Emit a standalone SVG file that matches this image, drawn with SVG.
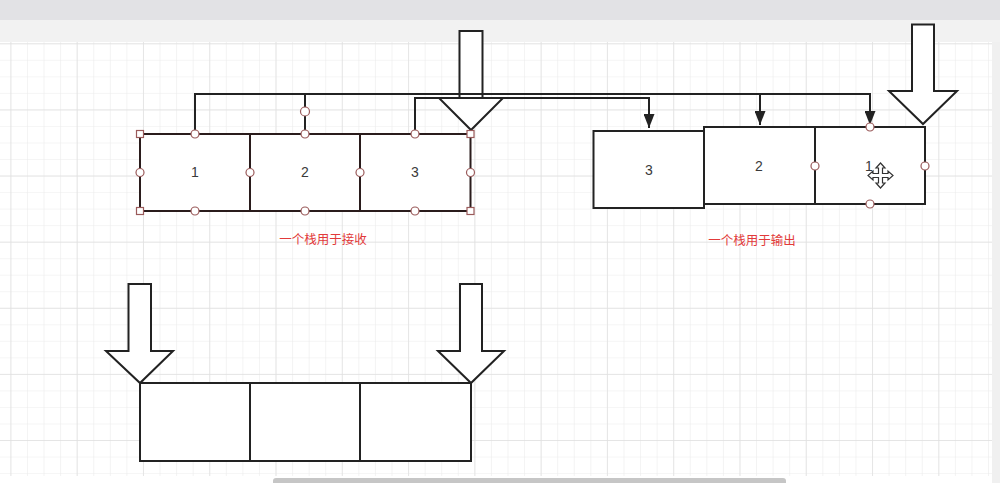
<svg xmlns="http://www.w3.org/2000/svg" width="1000" height="483" viewBox="0 0 1000 483">
<style>
.box{fill:#fff;stroke:#222;stroke-width:2}
.sel{fill:#fff;stroke:#2a1c1c;stroke-width:2}
.barrow{fill:#fff;stroke:#222;stroke-width:2;stroke-linejoin:miter}
.num{font-family:"Liberation Sans","DejaVu Sans",sans-serif;font-size:14px;fill:#3a3a3a;text-anchor:middle}
.lbl{font-family:"Noto Sans CJK SC",sans-serif;font-size:12.5px;fill:#e23a3a;text-anchor:middle}
.conn{fill:none;stroke:#222;stroke-width:2;marker-end:url(#ah)}
.h{fill:#fff;stroke:#9a5a5a;stroke-width:1.2}
</style>
<defs>
<pattern id="minor" patternUnits="userSpaceOnUse" x="10.4" y="43.3" width="16.57" height="16.53">
<path d="M0,0 V16.53 M0,0 H16.57" fill="none" stroke="#ececec" stroke-width="1.2"/>
</pattern>
<pattern id="major" patternUnits="userSpaceOnUse" x="10.4" y="43.3" width="66.28" height="66.12">
<path d="M0,0 V66.12 M0,0 H66.28" fill="none" stroke="#e0e0e0" stroke-width="1.4"/>
</pattern>
<marker id="ah" markerUnits="userSpaceOnUse" markerWidth="14" markerHeight="11" refX="14" refY="5.5" orient="auto">
<path d="M0,0 L14,5.5 L0,11 z" fill="#222"/>
</marker>
</defs>
<rect x="0" y="0" width="1000" height="483" fill="#ffffff"/>
<rect x="0" y="42" width="992" height="434" fill="url(#minor)"/>
<rect x="0" y="42" width="992" height="434" fill="url(#major)"/>
<rect x="992" y="42" width="8" height="441" fill="#f0f0f0"/>
<rect x="0" y="0" width="1000" height="20" fill="#e2e2e5"/>
<rect x="0" y="20" width="1000" height="22" fill="#f2f2f2"/>
<rect x="273" y="478" width="513" height="8" rx="3" fill="#c6c6c6"/>

<g id="arrow-top-center"><polygon class="barrow" points="459.5,31 482.5,31 482.5,98 503,98 471,130 439,98 459.5,98"/></g>
<g id="arrow-top-right"><polygon class="barrow" points="912,24.5 934,24.5 934,91 957,91 923,124 889,91 912,91"/></g>
<g id="arrow-bottom-left"><polygon class="barrow" points="128.5,284 151,284 151,351 173,351 140,383 106,351 128.5,351"/></g>
<g id="arrow-bottom-right"><polygon class="barrow" points="460,284 482,284 482,351 504,351 471,383 438,351 460,351"/></g>

<g id="connectors">
<polyline class="conn" points="195,133 195,94 870,94 870,125"/>
<polyline class="conn" points="305,133 305,94 760,94 760,125"/>
<polyline class="conn" points="415,133 415,98 649,98 649,128"/>
</g>

<g id="recv-1"><rect class="sel" x="140" y="134" width="110" height="77"/><text class="num" x="195" y="177">1</text></g>
<g id="recv-2"><rect class="sel" x="250" y="134" width="110" height="77"/><text class="num" x="305" y="177">2</text></g>
<g id="recv-3"><rect class="sel" x="360" y="134" width="110.5" height="77"/><text class="num" x="415" y="177">3</text></g>
<g id="recv-handles">
<line x1="305" y1="111" x2="305" y2="134" stroke="#222" stroke-width="2"/>
<rect class="h" x="136.5" y="130.5" width="7" height="7"/>
<rect class="h" x="467" y="130.5" width="7" height="7"/>
<rect class="h" x="136.5" y="207.5" width="7" height="7"/>
<rect class="h" x="467" y="207.5" width="7" height="7"/>
<circle class="h" cx="195" cy="134" r="4"/>
<circle class="h" cx="305" cy="134" r="4"/>
<circle class="h" cx="415" cy="134" r="4"/>
<circle class="h" cx="140" cy="172.5" r="4"/>
<circle class="h" cx="250" cy="172.5" r="4"/>
<circle class="h" cx="360" cy="172.5" r="4"/>
<circle class="h" cx="470.5" cy="172.5" r="4"/>
<circle class="h" cx="195" cy="211" r="4"/>
<circle class="h" cx="305" cy="211" r="4"/>
<circle class="h" cx="415" cy="211" r="4"/>
<circle class="h" cx="305" cy="111.5" r="4.5"/>
</g>
<g id="label-recv"><text class="lbl" x="323" y="244">一个栈用于接收</text></g>

<g id="out-3"><rect class="box" x="593.5" y="131" width="110.5" height="77"/><text class="num" x="649" y="175">3</text></g>
<g id="out-2"><rect class="box" x="704" y="127" width="111" height="77"/><text class="num" x="759" y="171">2</text></g>
<g id="out-1"><rect class="box" x="815" y="127" width="110" height="77"/><text class="num" x="869" y="171">1</text></g>
<g id="out-handles">
<circle class="h" cx="870" cy="127" r="4"/>
<circle class="h" cx="815" cy="166" r="4"/>
<circle class="h" cx="925" cy="166" r="4"/>
<circle class="h" cx="870" cy="204" r="4"/>
</g>
<g id="label-out"><text class="lbl" x="752" y="245">一个栈用于输出</text></g>

<g id="cursor">
<path d="M880.5,163 L885,168 L882.5,168 L882.5,173.5 L888,173.5 L888,171 L893,175.5 L888,180 L888,177.5 L882.5,177.5 L882.5,183 L885,183 L880.5,188 L876,183 L878.5,183 L878.5,177.5 L873,177.5 L873,180 L868,175.5 L873,171 L873,173.5 L878.5,173.5 L878.5,168 L876,168 Z" fill="#fff" stroke="#333" stroke-width="1.2" stroke-linejoin="miter"/>
</g>

<g id="bottom-stack">
<rect class="box" x="140" y="383" width="110" height="78"/>
<rect class="box" x="250" y="383" width="110" height="78"/>
<rect class="box" x="360" y="383" width="111" height="78"/>
</g>
</svg>
